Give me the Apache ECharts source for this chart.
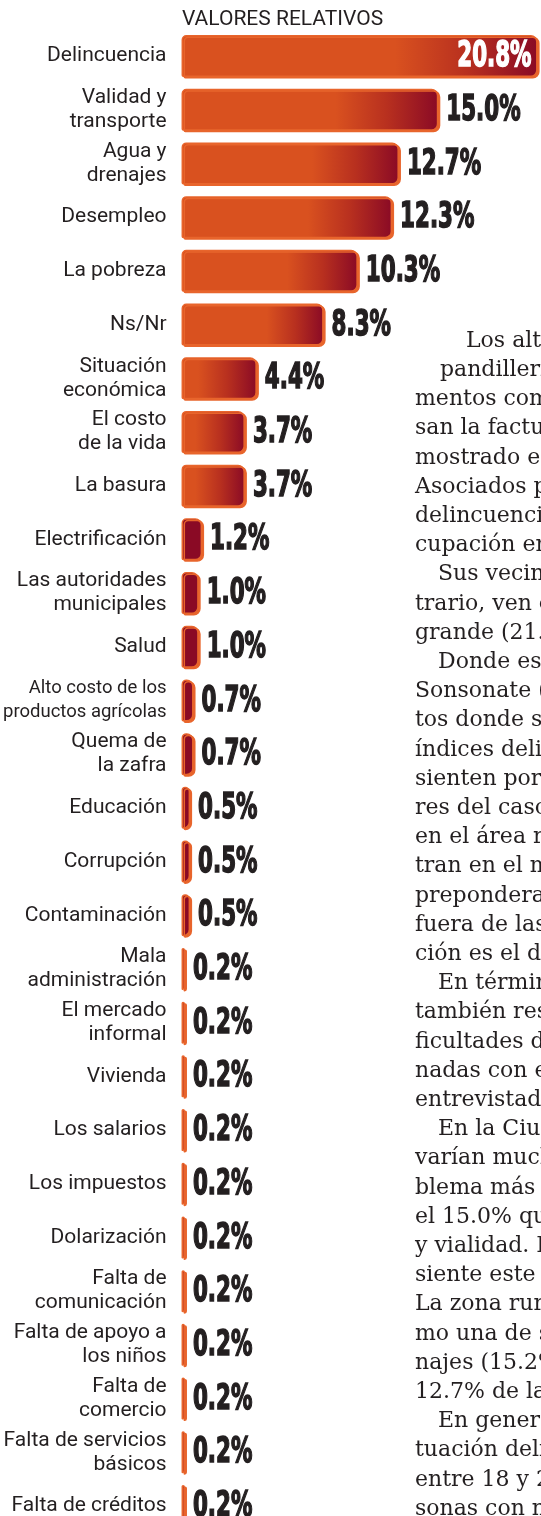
<!DOCTYPE html>
<html><head><meta charset="utf-8">
<script src="https://cdn.jsdelivr.net/npm/echarts@6/dist/echarts.min.js"></script>
<style>html,body{margin:0;padding:0;background:#fff;overflow:hidden}#c{width:541px;height:1545px}</style>
</head><body><div id="c"></div>
<script>
const chartTitle = 'VALORES RELATIVOS';
const categories = [
  'Delincuencia', 'Validad y\ntransporte', 'Agua y\ndrenajes', 'Desempleo', 'La pobreza', 'Ns/Nr',
  'Situación\neconómica', 'El costo\nde la vida', 'La basura', 'Electrificación',
  'Las autoridades\nmunicipales', 'Salud', 'Alto costo de los\nproductos agrícolas', 'Quema de\nla zafra',
  'Educación', 'Corrupción', 'Contaminación', 'Mala\nadministración', 'El mercado\ninformal',
  'Vivienda', 'Los salarios', 'Los impuestos', 'Dolarización', 'Falta de\ncomunicación',
  'Falta de apoyo a\nlos niños', 'Falta de\ncomercio', 'Falta de servicios\nbásicos', 'Falta de créditos'
];
const values = [20.8, 15.0, 12.7, 12.3, 10.3, 8.3, 4.4, 3.7, 3.7, 1.2, 1.0, 1.0, 0.7, 0.7, 0.5, 0.5, 0.5,
  0.2, 0.2, 0.2, 0.2, 0.2, 0.2, 0.2, 0.2, 0.2, 0.2, 0.2];
const articleLines = [
  'Los altos índices', 'pandillerismo', 'mentos como', 'san la factura', 'mostrado en', 'Asociados por',
  'delincuencia', 'cupación en', 'Sus vecinos', 'trario, ven el', 'grande (21.6%)', 'Donde es',
  'Sonsonate (', 'tos donde se', 'índices delic', 'sienten por', 'res del casco', 'en el área r',
  'tran en el m', 'preponderan', 'fuera de las', 'ción es el de', 'En términos', 'también res',
  'ficultades de', 'nadas con el', 'entrevistados', 'En la Ciudad', 'varían mucho', 'blema más gr',
  'el 15.0% que', 'y vialidad. L', 'siente este m', 'La zona rural', 'mo una de sus', 'najes (15.2%)',
  '12.7% de las', 'En general', 'tuación delic', 'entre 18 y 29', 'sonas con n'
];
const paragraphStarts = [8, 11, 22, 27, 37];

const ORANGE = '#D9511F', DARK = '#8A0A25', EDGE = '#E8652C', INK = '#231f20';
function barColor(v) {
  if (v < 2) return DARK;
  const f = v >= 8 ? 0.6 : 0.22;
  return new echarts.graphic.LinearGradient(0, 0, 1, 0, [
    { offset: 0, color: ORANGE }, { offset: f, color: ORANGE },
    { offset: (f + 1) / 2, color: '#B8301F' }, { offset: 1, color: DARK }
  ]);
}

const chart = echarts.init(document.getElementById('c'), null, { renderer: 'canvas' });

const graphics = [{
  type: 'text', left: 182, top: 9,
  style: { text: chartTitle, font: '400 21px Roboto', fill: INK }
}];
articleLines.forEach((t, i) => {
  let x = 415;
  if (i === 0) x = 466; else if (i === 1) x = 440; else if (paragraphStarts.includes(i)) x = 438;
  graphics.push({
    type: 'text', x: x, y: 341 + i * 29.2,
    style: { text: t, font: '22px "DejaVu Serif"', fill: INK, verticalAlign: 'middle', align: 'left' }
  });
});

chart.setOption({
  animation: false,
  backgroundColor: '#fff',
  grid: { left: 181, top: 29.2, width: 361, height: 1503.6, containLabel: false },
  xAxis: { type: 'value', min: 0, max: 21, show: false },
  yAxis: {
    type: 'category', data: categories, inverse: true,
    axisLine: { show: false }, axisTick: { show: false },
    axisLabel: {
      color: INK, fontFamily: 'Roboto', fontSize: 21, lineHeight: 24, margin: 15, align: 'right',
      formatter: v => v.startsWith('Alto costo') ? '{s|' + v.replace('\n', '}\n{s|') + '}' : v,
      rich: { s: { fontSize: 18.5, fontFamily: 'Roboto', color: INK, lineHeight: 24 } }
    }
  },
  series: [{
    type: 'bar', barWidth: 42,
    data: values.map(v => ({ value: v, itemStyle: { color: barColor(v) } })),
    itemStyle: {
      borderColor: EDGE, borderWidth: 1.5, borderRadius: [4, 6, 6, 1],
      shadowColor: EDGE, shadowOffsetX: 2, shadowOffsetY: 1.5, shadowBlur: 0
    }
  }, {
    type: 'custom', z: 5,
    data: values.map((v, i) => [v, i]),
    encode: { x: 0, y: 1 },
    renderItem(params, api) {
      const v = api.value(0), idx = api.value(1);
      const p = api.coord([v, idx]);
      const inside = idx === 0;
      const col = inside ? '#fff' : INK;
      return {
        type: 'text', x: inside ? p[0] - 6 : p[0] + 8, y: p[1] + 1, scaleX: 0.68,
        style: {
          text: v.toFixed(1) + '%', fill: col, stroke: col, lineWidth: 1.5,
          font: 'bold 35px "Liberation Sans Narrow", "DejaVu Sans Condensed", sans-serif',
          align: inside ? 'right' : 'left', verticalAlign: 'middle'
        }
      };
    }
  }],
  graphic: graphics
});
</script></body></html>
